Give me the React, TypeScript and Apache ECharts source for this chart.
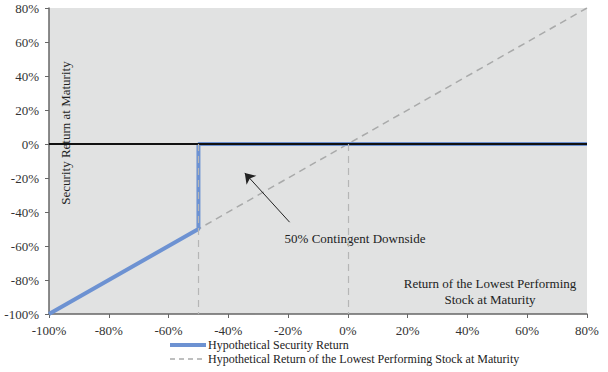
import React, { useEffect, useRef } from "react";
import * as echarts from "echarts";

const securityX = [-100, -50, -50, 80];
const securityY = [-100, -50, 0, 0];
const stockX = [-100, 80];
const stockY = [-100, 80];
const strikeLines = [-50, 0];
const arrowFrom = [-19.5, -46];
const arrowTo = [-34.5, -17];
const seriesNames = [
  "Hypothetical Security Return",
  "Hypothetical Return of the Lowest Performing Stock at Maturity",
];
const FONT = "'Liberation Serif', 'Times New Roman', serif";

export default function App() {
  const ref = useRef<HTMLDivElement>(null);
  useEffect(() => {
    if (!ref.current) return;
    const chart = echarts.init(ref.current, null, { renderer: "svg" });
    chart.setOption({
      animation: false,
      grid: {
        left: 49,
        right: 21,
        top: 8,
        bottom: 58,
        show: true,
        backgroundColor: "#e1e2e2",
        borderWidth: 0,
      },
      xAxis: {
        type: "value",
        min: -100,
        max: 80,
        interval: 20,
        axisLine: { show: true, onZero: false, lineStyle: { color: "#666", width: 1.5 } },
        axisTick: { show: true, length: 4, lineStyle: { color: "#666" } },
        splitLine: { show: false },
        axisLabel: {
          formatter: (v: number) => v + "%",
          fontFamily: FONT,
          fontSize: 13,
          color: "#333",
          margin: 10,
        },
      },
      yAxis: {
        type: "value",
        min: -100,
        max: 80,
        interval: 20,
        axisLine: { show: true, onZero: false, lineStyle: { color: "#666", width: 1.5 } },
        axisTick: { show: true, length: 4, lineStyle: { color: "#666" } },
        splitLine: { show: false },
        axisLabel: {
          formatter: (v: number) => v + "%",
          fontFamily: FONT,
          fontSize: 13,
          color: "#333",
          margin: 10,
        },
      },
      legend: {
        orient: "vertical",
        left: 168,
        top: 339,
        itemWidth: 36,
        itemHeight: 10,
        itemGap: 2,
        padding: 0,
        itemStyle: { opacity: 0 },
        textStyle: { fontFamily: FONT, fontSize: 12, color: "#222", padding: [0, 0, 0, -3] },
        data: [
          { name: seriesNames[0], lineStyle: { width: 4 } },
          { name: seriesNames[1], lineStyle: { width: 1.5, type: [5, 4] } },
        ],
      },
      series: [
        {
          name: seriesNames[0],
          type: "line",
          symbol: "none",
          data: securityX.map((x, i) => [x, securityY[i]]),
          lineStyle: { color: "#6d92d2", width: 4 },
          itemStyle: { color: "#6d92d2" },
          z: 3,
          markLine: {
            silent: true,
            symbol: ["none", "none"],
            label: { show: false },
            lineStyle: { color: "#111", width: 2, type: "solid" },
            data: [{ yAxis: 0 }],
            z: 5,
          },
        },
        {
          name: seriesNames[1],
          type: "line",
          symbol: "none",
          data: stockX.map((x, i) => [x, stockY[i]]),
          lineStyle: { color: "#a9aaaa", width: 1.5, type: [7, 5] },
          itemStyle: { color: "#a9aaaa" },
          z: 2,
          markLine: {
            silent: true,
            symbol: ["none", "none"],
            label: { show: false },
            lineStyle: { color: "#b5b6b6", width: 1.2, type: [7, 5] },
            data: strikeLines.map((x) => [
              { coord: [x, 0] },
              { coord: [x, -100] },
            ]),
          },
        },
        {
          name: "arrow",
          type: "line",
          symbol: "none",
          data: [],
          markLine: {
            silent: true,
            symbol: ["none", "arrow"],
            symbolSize: 10,
            label: { show: false },
            lineStyle: { color: "#222", width: 1, type: "solid" },
            data: [[{ coord: arrowFrom }, { coord: arrowTo }]],
          },
        },
      ],
      graphic: [
        {
          type: "text",
          x: 65,
          y: 133,
          rotation: Math.PI / 2,
          style: {
            text: "Security Return at Maturity",
            font: `13px ${FONT}`,
            fill: "#222",
            align: "center",
            verticalAlign: "middle",
          },
        },
        {
          type: "text",
          x: 355,
          y: 238,
          style: {
            text: "50% Contingent Downside",
            font: `13px ${FONT}`,
            fill: "#222",
            align: "center",
            verticalAlign: "middle",
          },
        },
        {
          type: "text",
          x: 490,
          y: 291,
          style: {
            text: "Return of the Lowest Performing\nStock at Maturity",
            font: `13px ${FONT}`,
            fill: "#222",
            align: "center",
            verticalAlign: "middle",
            lineHeight: 16,
          },
        },
      ],
    });
    return () => chart.dispose();
  }, []);
  return (
    <div
      ref={ref}
      style={{ position: "absolute", left: 0, top: 0, width: 608, height: 372 }}
    />
  );
}
